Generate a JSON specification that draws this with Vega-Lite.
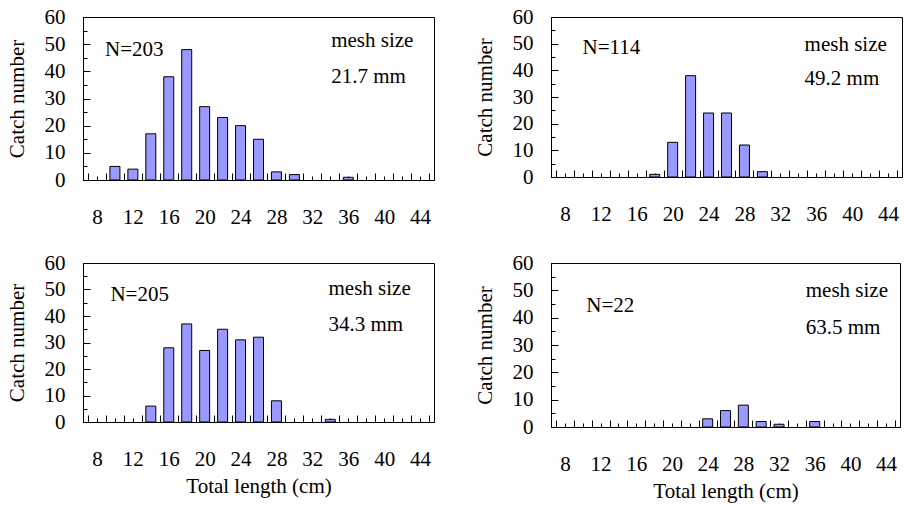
{
  "$schema": "https://vega.github.io/schema/vega-lite/v6.json",
  "autosize": {"type": "none"},
  "padding": {"left": 83, "top": 17, "right": 821, "bottom": 492},
  "background": "white",
  "datasets": {
    "catch": [
      {"mesh": "21.7", "length": 10, "count": 5},
      {"mesh": "21.7", "length": 12, "count": 4},
      {"mesh": "21.7", "length": 14, "count": 17},
      {"mesh": "21.7", "length": 16, "count": 38},
      {"mesh": "21.7", "length": 18, "count": 48},
      {"mesh": "21.7", "length": 20, "count": 27},
      {"mesh": "21.7", "length": 22, "count": 23},
      {"mesh": "21.7", "length": 24, "count": 20},
      {"mesh": "21.7", "length": 26, "count": 15},
      {"mesh": "21.7", "length": 28, "count": 3},
      {"mesh": "21.7", "length": 30, "count": 2},
      {"mesh": "21.7", "length": 36, "count": 1},
      {"mesh": "49.2", "length": 18, "count": 1},
      {"mesh": "49.2", "length": 20, "count": 13},
      {"mesh": "49.2", "length": 22, "count": 38},
      {"mesh": "49.2", "length": 24, "count": 24},
      {"mesh": "49.2", "length": 26, "count": 24},
      {"mesh": "49.2", "length": 28, "count": 12},
      {"mesh": "49.2", "length": 30, "count": 2},
      {"mesh": "34.3", "length": 14, "count": 6},
      {"mesh": "34.3", "length": 16, "count": 28},
      {"mesh": "34.3", "length": 18, "count": 37},
      {"mesh": "34.3", "length": 20, "count": 27},
      {"mesh": "34.3", "length": 22, "count": 35},
      {"mesh": "34.3", "length": 24, "count": 31},
      {"mesh": "34.3", "length": 26, "count": 32},
      {"mesh": "34.3", "length": 28, "count": 8},
      {"mesh": "34.3", "length": 34, "count": 1},
      {"mesh": "63.5", "length": 24, "count": 3},
      {"mesh": "63.5", "length": 26, "count": 6},
      {"mesh": "63.5", "length": 28, "count": 8},
      {"mesh": "63.5", "length": 30, "count": 2},
      {"mesh": "63.5", "length": 32, "count": 1},
      {"mesh": "63.5", "length": 36, "count": 2}
    ]
  },
  "columns": 2,
  "bounds": "flush",
  "spacing": {"row": 83, "column": 117},
  "concat": [
    {
      "width": 351, "height": 163,
      "resolve": {"axis": {"x": "independent", "y": "independent"}},
      "layer": [
        {
          "data": {"name": "catch"},
          "transform": [{"filter": "datum.mesh === '21.7'"}],
          "mark": {"type": "bar", "width": 10, "fill": "#9999ff", "stroke": "black", "strokeWidth": 1},
          "encoding": {
            "x": {"field": "length", "type": "quantitative", "scale": {"domain": [7, 45], "nice": false, "zero": false},
              "axis": {"title": null, "orient": "bottom", "values": [8,12,16,20,24,28,32,36,40,44], "tickSize": -4, "labelPadding": 30, "labelFont": "Liberation Serif"}},
            "y": {"field": "count", "type": "quantitative", "scale": {"domain": [0, 60], "nice": false},
              "axis": {"title": "Catch number", "orient": "left", "values": [0,10,20,30,40,50,60], "tickSize": -7, "labelPadding": 25, "titlePadding": 17, "labelFont": "Liberation Serif", "titleFont": "Liberation Serif"}}
          }
        },
        {
          "data": {"values": [{"label": "N=203"}]},
          "mark": {"type": "text", "align": "left", "baseline": "middle"},
          "encoding": {
            "x": {"datum": 8.9, "axis": {"title": null, "orient": "bottom", "values": [7,9,11,13,15,17,19,21,23,25,27,29,31,33,35,37,39,41,43,45], "tickSize": -7, "labels": false, "domain": false}},
            "y": {"datum": 47.7, "axis": {"title": null, "orient": "left", "values": [5,15,25,35,45,55], "tickSize": -4, "labels": false, "domain": false}},
            "text": {"field": "label"}}
        },
        {
          "data": {"values": [{"label": "mesh size"}]},
          "mark": {"type": "text", "align": "left", "baseline": "middle"},
          "encoding": {
            "x": {"datum": 34.1, "axis": {"title": null, "orient": "bottom", "values": [10,14,18,22,26,30,34,38,42], "tickSize": -4, "labels": false, "domain": false}},
            "y": {"datum": 51, "axis": null},
            "text": {"field": "label"}}
        },
        {
          "data": {"values": [{"label": "21.7 mm"}]},
          "mark": {"type": "text", "align": "left", "baseline": "middle"},
          "encoding": {"x": {"datum": 34.1, "axis": null}, "y": {"datum": 37.9, "axis": null}, "text": {"field": "label"}}
        }
      ]
    },
    {
      "width": 351, "height": 160,
      "resolve": {"axis": {"x": "independent", "y": "independent"}},
      "layer": [
        {
          "data": {"name": "catch"},
          "transform": [{"filter": "datum.mesh === '49.2'"}],
          "mark": {"type": "bar", "width": 10, "fill": "#9999ff", "stroke": "black", "strokeWidth": 1},
          "encoding": {
            "x": {"field": "length", "type": "quantitative", "scale": {"domain": [7, 45], "nice": false, "zero": false},
              "axis": {"title": null, "orient": "bottom", "values": [8,12,16,20,24,28,32,36,40,44], "tickSize": -4, "labelPadding": 30, "labelFont": "Liberation Serif"}},
            "y": {"field": "count", "type": "quantitative", "scale": {"domain": [0, 60], "nice": false},
              "axis": {"title": "Catch number", "orient": "left", "values": [0,10,20,30,40,50,60], "tickSize": -7, "labelPadding": 25, "titlePadding": 17, "labelFont": "Liberation Serif", "titleFont": "Liberation Serif"}}
          }
        },
        {
          "data": {"values": [{"label": "N=114"}]},
          "mark": {"type": "text", "align": "left", "baseline": "middle"},
          "encoding": {
            "x": {"datum": 9.95, "axis": {"title": null, "orient": "bottom", "values": [7,9,11,13,15,17,19,21,23,25,27,29,31,33,35,37,39,41,43,45], "tickSize": -7, "labels": false, "domain": false}},
            "y": {"datum": 48.3, "axis": {"title": null, "orient": "left", "values": [5,15,25,35,45,55], "tickSize": -4, "labels": false, "domain": false}},
            "text": {"field": "label"}}
        },
        {
          "data": {"values": [{"label": "mesh size"}]},
          "mark": {"type": "text", "align": "left", "baseline": "middle"},
          "encoding": {
            "x": {"datum": 34.7, "axis": {"title": null, "orient": "bottom", "values": [10,14,18,22,26,30,34,38,42], "tickSize": -4, "labels": false, "domain": false}},
            "y": {"datum": 49.6, "axis": null},
            "text": {"field": "label"}}
        },
        {
          "data": {"values": [{"label": "49.2 mm"}]},
          "mark": {"type": "text", "align": "left", "baseline": "middle"},
          "encoding": {"x": {"datum": 34.7, "axis": null}, "y": {"datum": 36.8, "axis": null}, "text": {"field": "label"}}
        }
      ]
    },
    {
      "width": 351, "height": 159,
      "resolve": {"axis": {"x": "independent", "y": "independent"}},
      "layer": [
        {
          "data": {"name": "catch"},
          "transform": [{"filter": "datum.mesh === '34.3'"}],
          "mark": {"type": "bar", "width": 10, "fill": "#9999ff", "stroke": "black", "strokeWidth": 1},
          "encoding": {
            "x": {"field": "length", "type": "quantitative", "scale": {"domain": [7, 45], "nice": false, "zero": false},
              "axis": {"title": "Total length (cm)", "orient": "bottom", "values": [8,12,16,20,24,28,32,36,40,44], "tickSize": -4, "labelPadding": 30, "titlePadding": 6, "labelFont": "Liberation Serif", "titleFont": "Liberation Serif"}},
            "y": {"field": "count", "type": "quantitative", "scale": {"domain": [0, 60], "nice": false},
              "axis": {"title": "Catch number", "orient": "left", "values": [0,10,20,30,40,50,60], "tickSize": -7, "labelPadding": 25, "titlePadding": 17, "labelFont": "Liberation Serif", "titleFont": "Liberation Serif"}}
          }
        },
        {
          "data": {"values": [{"label": "N=205"}]},
          "mark": {"type": "text", "align": "left", "baseline": "middle"},
          "encoding": {
            "x": {"datum": 9.5, "axis": {"title": null, "orient": "bottom", "values": [7,9,11,13,15,17,19,21,23,25,27,29,31,33,35,37,39,41,43,45], "tickSize": -7, "labels": false, "domain": false}},
            "y": {"datum": 48.1, "axis": {"title": null, "orient": "left", "values": [5,15,25,35,45,55], "tickSize": -4, "labels": false, "domain": false}},
            "text": {"field": "label"}}
        },
        {
          "data": {"values": [{"label": "mesh size"}]},
          "mark": {"type": "text", "align": "left", "baseline": "middle"},
          "encoding": {
            "x": {"datum": 33.8, "axis": {"title": null, "orient": "bottom", "values": [10,14,18,22,26,30,34,38,42], "tickSize": -4, "labels": false, "domain": false}},
            "y": {"datum": 50.1, "axis": null},
            "text": {"field": "label"}}
        },
        {
          "data": {"values": [{"label": "34.3 mm"}]},
          "mark": {"type": "text", "align": "left", "baseline": "middle"},
          "encoding": {"x": {"datum": 33.8, "axis": null}, "y": {"datum": 36.5, "axis": null}, "text": {"field": "label"}}
        }
      ]
    },
    {
      "width": 349, "height": 164,
      "resolve": {"axis": {"x": "independent", "y": "independent"}},
      "layer": [
        {
          "data": {"name": "catch"},
          "transform": [{"filter": "datum.mesh === '63.5'"}],
          "mark": {"type": "bar", "width": 10, "fill": "#9999ff", "stroke": "black", "strokeWidth": 1},
          "encoding": {
            "x": {"field": "length", "type": "quantitative", "scale": {"domain": [7, 45], "nice": false, "zero": false},
              "axis": {"title": "Total length (cm)", "orient": "bottom", "values": [8,12,16,20,24,28,32,36,40,44], "tickSize": -4, "labelPadding": 30, "titlePadding": 6, "labelFont": "Liberation Serif", "titleFont": "Liberation Serif"}},
            "y": {"field": "count", "type": "quantitative", "scale": {"domain": [0, 60], "nice": false},
              "axis": {"title": "Catch number", "orient": "left", "values": [0,10,20,30,40,50,60], "tickSize": -7, "labelPadding": 25, "titlePadding": 17, "labelFont": "Liberation Serif", "titleFont": "Liberation Serif"}}
          }
        },
        {
          "data": {"values": [{"label": "N=22"}]},
          "mark": {"type": "text", "align": "left", "baseline": "middle"},
          "encoding": {
            "x": {"datum": 10.4, "axis": {"title": null, "orient": "bottom", "values": [7,9,11,13,15,17,19,21,23,25,27,29,31,33,35,37,39,41,43,45], "tickSize": -7, "labels": false, "domain": false}},
            "y": {"datum": 44.4, "axis": {"title": null, "orient": "left", "values": [5,15,25,35,45,55], "tickSize": -4, "labels": false, "domain": false}},
            "text": {"field": "label"}}
        },
        {
          "data": {"values": [{"label": "mesh size"}]},
          "mark": {"type": "text", "align": "left", "baseline": "middle"},
          "encoding": {
            "x": {"datum": 35.0, "axis": {"title": null, "orient": "bottom", "values": [10,14,18,22,26,30,34,38,42], "tickSize": -4, "labels": false, "domain": false}},
            "y": {"datum": 49.6, "axis": null},
            "text": {"field": "label"}}
        },
        {
          "data": {"values": [{"label": "63.5 mm"}]},
          "mark": {"type": "text", "align": "left", "baseline": "middle"},
          "encoding": {"x": {"datum": 35.0, "axis": null}, "y": {"datum": 36.4, "axis": null}, "text": {"field": "label"}}
        }
      ]
    }
  ],
  "config": {
    "view": {"stroke": "black", "strokeWidth": 1},
    "axis": {
      "grid": false,
      "domainColor": "black", "domainWidth": 1,
      "tickColor": "black", "tickWidth": 1,
      "labelColor": "black", "titleColor": "black",
      "labelFont": "Liberation Serif", "titleFont": "Liberation Serif",
      "labelFontSize": 21, "titleFontSize": 21, "titleFontWeight": "normal",
      "labelOverlap": false, "labelFlush": false, "labelBound": false
    },
    "style": {
      "guide-label": {"font": "Liberation Serif", "fontSize": 21},
      "guide-title": {"font": "Liberation Serif", "fontSize": 21, "fontWeight": "normal"}
    },
    "text": {"font": "Liberation Serif", "fontSize": 21, "color": "black"}
  }
}
